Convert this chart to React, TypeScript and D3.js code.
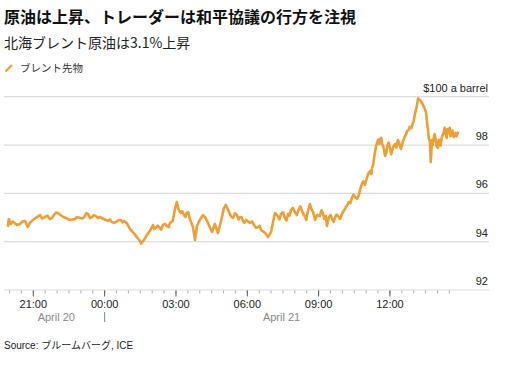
import React from "react"
import * as d3 from "d3"

// Brent futures (ICE). Times run from the evening of April 20 into April 21.
const times = [
  "19:56", "19:58", "20:03", "20:08", "20:13", "20:18", "20:26", "20:31",
  "20:39", "20:46", "20:51", "20:59", "21:09", "21:17", "21:22", "21:29",
  "21:35", "21:42", "21:47", "21:52", "21:57", "22:02", "22:12", "22:22",
  "22:32", "22:45", "22:50", "22:58", "23:05", "23:10", "23:14", "23:18",
  "23:23", "23:28", "23:33", "23:38", "23:43", "23:48", "23:58", "00:08",
  "00:13", "00:18", "00:24", "00:31", "00:36", "00:41", "00:45", "00:49",
  "00:56", "01:04", "01:11", "01:19", "01:27", "01:32", "01:39", "01:47",
  "01:54", "02:02", "02:05", "02:09", "02:14", "02:19", "02:23", "02:27",
  "02:32", "02:37", "02:41", "02:45", "02:49", "02:52", "02:57", "03:02",
  "03:07", "03:12", "03:16", "03:20", "03:24", "03:27", "03:31", "03:35",
  "03:43", "03:48", "03:53", "04:00", "04:08", "04:15", "04:23", "04:31",
  "04:38", "04:46", "04:53", "05:01", "05:06", "05:14", "05:19", "05:24",
  "05:29", "05:34", "05:38", "05:42", "05:46", "05:49", "05:53", "05:57",
  "06:07", "06:12", "06:17", "06:22", "06:27", "06:31", "06:35", "06:40",
  "06:45", "06:48", "06:52", "07:00", "07:05", "07:10", "07:17", "07:21",
  "07:25", "07:30", "07:35", "07:39", "07:43", "07:47", "07:50", "07:55",
  "08:00", "08:05", "08:10", "08:14", "08:18", "08:22", "08:25", "08:29",
  "08:33", "08:38", "08:42", "08:46", "08:51", "08:56", "09:03", "09:07",
  "09:11", "09:14", "09:18", "09:21", "09:26", "09:30", "09:34", "09:38",
  "09:41", "09:45", "09:49", "09:54", "10:01", "10:05", "10:09", "10:12",
  "10:16", "10:20", "10:24", "10:28", "10:32", "10:37", "10:41", "10:44",
  "10:49", "10:53", "10:57", "11:01", "11:05", "11:10", "11:13", "11:15",
  "11:18", "11:20", "11:25", "11:30", "11:33", "11:35", "11:38", "11:40",
  "11:43", "11:45", "11:48", "11:51", "11:53", "11:57", "12:00", "12:03",
  "12:05", "12:09", "12:13", "12:16", "12:20", "12:23", "12:25", "12:28",
  "12:33", "12:38", "12:41", "12:43", "12:47", "12:50", "12:54", "12:58",
  "13:00", "13:03", "13:08", "13:11", "13:16", "13:21", "13:26", "13:31",
  "13:33", "13:36", "13:38", "13:41", "13:43", "13:46", "13:48", "13:51",
  "13:53", "13:56", "13:58", "14:01", "14:03", "14:06", "14:08", "14:11",
  "14:13", "14:16", "14:18", "14:20", "14:23", "14:25", "14:28", "14:31",
  "14:33", "14:36", "14:38", "14:41", "14:43", "14:46", "14:48", "14:51",
  "14:53",
]

const prices = [
  94.61, 94.94, 94.73, 94.84, 94.77, 94.69, 94.73, 94.82,
  94.86, 94.61, 94.77, 94.9, 95.02, 95.1, 94.96, 95.02,
  95.08, 94.94, 94.98, 95.1, 95.21, 95.19, 95.06, 94.98,
  94.9, 94.94, 95.02, 94.98, 94.96, 95.06, 95.18, 95.15,
  94.98, 95.02, 95.1, 95.06, 94.98, 95.02, 94.94, 94.86,
  94.92, 94.81, 94.78, 94.84, 94.9, 94.9, 94.8, 94.86,
  94.77, 94.52, 94.4, 94.24, 94.07, 93.92, 94.07, 94.28,
  94.44, 94.69, 94.52, 94.57, 94.66, 94.57, 94.5, 94.69,
  94.74, 94.65, 94.6, 94.77, 94.82, 94.86, 95.31, 95.64,
  95.31, 95.19, 95.26, 95.1, 95.02, 95.19, 95.22, 94.94,
  94.61, 94.07, 94.65, 94.9, 95.1, 94.98, 94.69, 94.4,
  94.73, 94.36, 94.81, 95.39, 95.52, 95.23, 95.04, 94.98,
  95.18, 95.1, 94.92, 95.02, 95.0, 94.86, 94.78, 94.9,
  94.77, 94.84, 94.69, 94.58, 94.61, 94.66, 94.48, 94.42,
  94.36, 94.3, 94.19, 94.4, 94.81, 95.19, 95.06, 94.92,
  95.15, 95.22, 94.98, 94.88, 95.15, 95.08, 95.31, 95.4,
  95.23, 95.1, 95.35, 95.46, 95.27, 95.12, 95.06, 94.9,
  95.27, 95.56, 95.34, 95.23, 94.9, 95.1, 95.06, 95.3,
  95.19, 94.94, 95.06, 94.65, 95.02, 95.1, 94.94, 94.82,
  94.98, 95.12, 95.06, 94.94, 95.23, 95.3, 95.44, 95.5,
  95.64, 95.6, 95.81, 95.95, 95.85, 95.77, 95.9, 96.1,
  96.39, 96.5, 96.35, 96.6, 96.8, 96.93, 96.8, 97.05,
  97.2, 97.46, 97.96, 98.21, 98.05, 98.25, 98.3, 98.04,
  97.95, 97.79, 97.55, 97.7, 97.96, 98.1, 97.88, 97.62,
  97.75, 97.95, 98.04, 97.9, 98.21, 98.1, 97.96, 97.84,
  98.17, 98.37, 98.45, 98.58, 98.62, 98.75, 98.7, 98.91,
  99.0, 99.28, 99.62, 99.93, 99.86, 99.74, 99.57, 99.37,
  99.04, 98.62, 98.29, 98.13, 97.3, 98.21, 98.0, 98.33,
  98.45, 98.17, 97.95, 97.88, 98.22, 98.08, 97.98, 98.33,
  98.4, 98.54, 98.71, 98.52, 98.29, 98.66, 98.5, 98.71,
  98.36, 98.46, 98.6, 98.33, 98.45, 98.5, 98.36, 98.5,
  98.54,
]

const yTicks = [92, 94, 96, 98, 100]
const yTickLabels = ["92", "94", "96", "98", "$100 a barrel"]
const dayLabels = ["April 20", "April 21"]

const title = "原油は上昇、トレーダーは和平協議の行方を注視"
const subtitle = "北海ブレント原油は3.1%上昇"
const legendLabel = "ブレント先物"
const source = "Source: ブルームバーグ, ICE"

const W = 506
const H = 368
const ORANGE = "#ec9f37"
const LATIN = "'Liberation Sans', Arial, 'Noto Sans CJK JP', sans-serif"
const CJK = "'Noto Sans CJK JP', 'Liberation Sans', sans-serif"

const utc = (day: number, h: number, m: number) => new Date(Date.UTC(2026, 3, day, h, m))

// times roll over to the next day when the hour goes backwards
function buildData() {
  let day = 20
  let prevHour = -1
  return times.map((t, i) => {
    const [h, m] = t.split(":").map(Number)
    if (h < prevHour) day += 1
    prevHour = h
    return { date: utc(day, h, m), value: prices[i] }
  })
}

export default function App() {
  const data = buildData()

  const x = d3.scaleUtc().domain([utc(20, 19, 46), utc(21, 16, 10)]).range([4, 489])
  const y = d3.scaleLinear().domain([92, 100]).range([290, 96.7])

  const line = d3
    .line<{ date: Date; value: number }>()
    .x(d => x(d.date))
    .y(d => y(d.value))

  const minorTicks = d3.utcMinute.every(30)!.range(utc(20, 20, 0), utc(21, 14, 31))
  const majorTicks = minorTicks.filter(d => d.getUTCMinutes() === 0 && d.getUTCHours() % 3 === 0)
  const fmt = d3.utcFormat("%H:%M")

  const first = x(data[0].date)
  const last = x(data[data.length - 1].date)
  const midnight = x(utc(21, 0, 0))
  const dayCenters = [(first + midnight) / 2, (midnight + last) / 2]

  return (
    <svg width={W} height={H} style={{ position: "absolute", left: 0, top: 0, background: "#fff" }}>
      <text x={4} y={23} fontFamily={CJK} fontWeight="bold" fontSize={16} fill="#111">
        {title}
      </text>
      <text x={4} y={48} fontFamily={CJK} fontSize={14} fill="#222">
        {subtitle}
      </text>
      <line x1={5.5} y1={71.5} x2={12} y2={65} stroke={ORANGE} strokeWidth={2.2} />
      <text x={20} y={71.5} fontFamily={CJK} fontSize={10.5} fill="#333">
        {legendLabel}
      </text>

      {yTicks.map((t, i) => (
        <g key={t}>
          <line x1={4} x2={489} y1={y(t)} y2={y(t)} stroke="#dcdcdc" strokeWidth={1.2} />
          <text x={488} y={y(t) - 5} textAnchor="end" fontFamily={LATIN} fontSize={11} fill="#222">
            {yTickLabels[i]}
          </text>
        </g>
      ))}

      {minorTicks.map(d => (
        <line key={+d} x1={x(d)} x2={x(d)} y1={290.5} y2={293.5} stroke="#999" strokeWidth={0.8} />
      ))}
      {majorTicks.map(d => (
        <g key={+d}>
          <line x1={x(d)} x2={x(d)} y1={290.5} y2={296.5} stroke="#555" strokeWidth={1} />
          <text x={x(d)} y={308} textAnchor="middle" fontFamily={LATIN} fontSize={11} fill="#222">
            {fmt(d)}
          </text>
        </g>
      ))}
      {dayLabels.map((l, i) => (
        <text
          key={l}
          x={dayCenters[i]}
          y={320.5}
          textAnchor="middle"
          fontFamily={LATIN}
          fontSize={11}
          fill="#888"
        >
          {l}
        </text>
      ))}
      <line x1={midnight} x2={midnight} y1={312} y2={322} stroke="#888" strokeWidth={1} />

      <path d={line(data) || ""} fill="none" stroke={ORANGE} strokeWidth={2.6} strokeLinejoin="round" />

      <text x={4} y={349} fontFamily={LATIN} fontSize={10} fill="#222">
        {source}
      </text>
    </svg>
  )
}
